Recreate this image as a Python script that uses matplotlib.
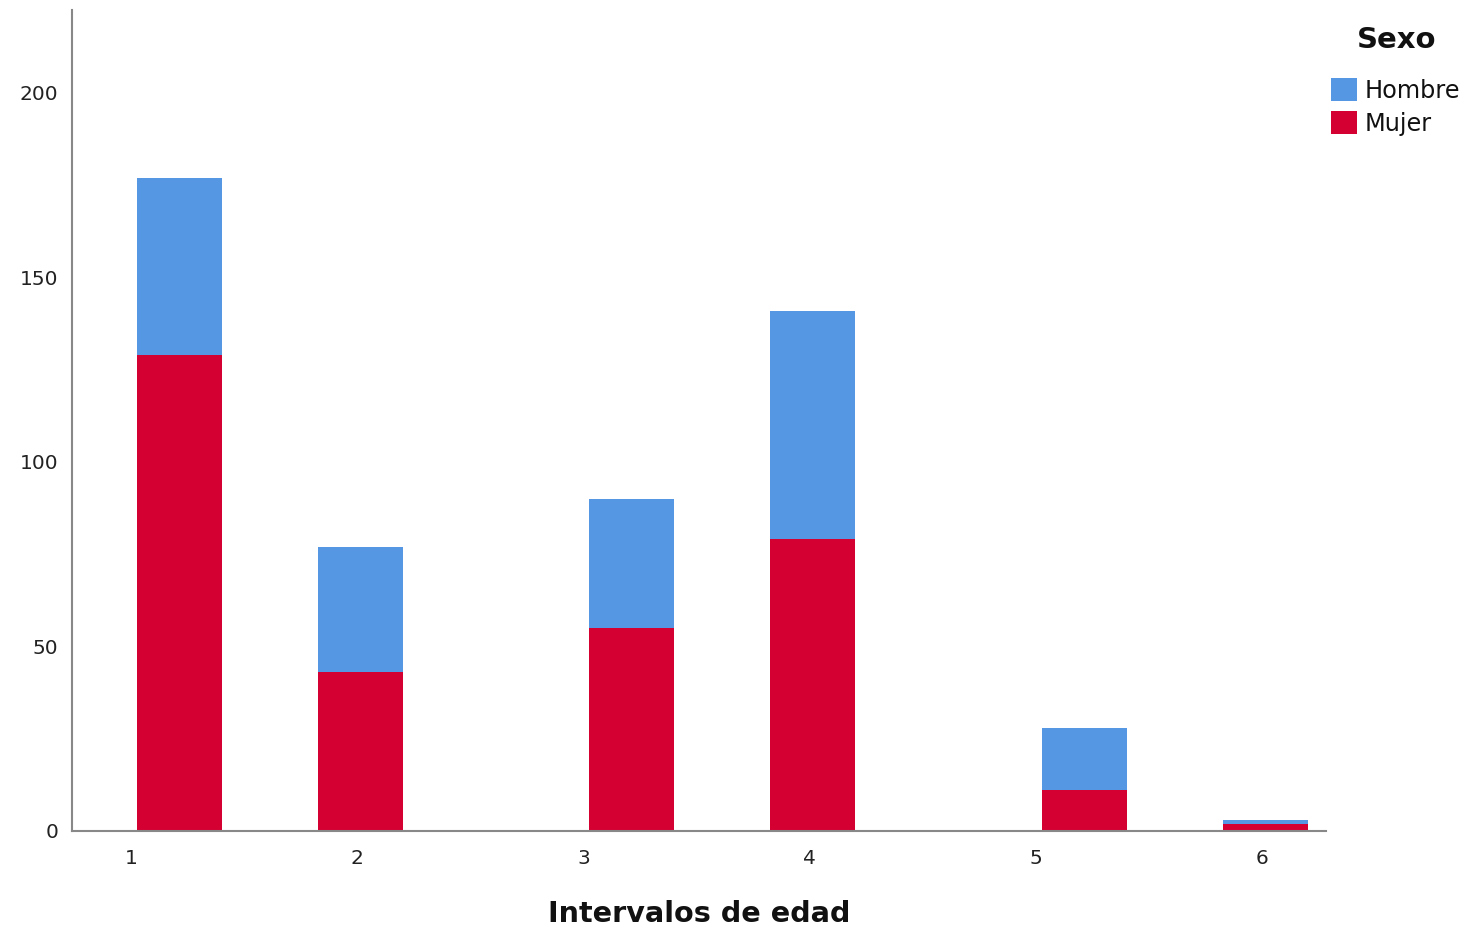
import matplotlib
matplotlib.use("Agg")
import matplotlib.pyplot as plt
from matplotlib.patches import Patch

plt.rcParams['font.family'] = ['DejaVu Sans']

categories = [1, 2, 3, 4, 5, 6]
bar_pos = [1.215, 2.015, 3.214, 4.015, 5.214, 6.015]
mujer = [129, 43, 55, 79, 11, 2]
hombre = [48, 34, 35, 62, 17, 1]
series_names = ["Hombre", "Mujer"]
legend_title = "Sexo"
c_hombre = "#5597E3"
c_mujer = "#D50032"

fig = plt.figure(figsize=(14.71, 9.32), dpi=100)
ax = fig.add_axes([0.0489, 0.1084, 0.8525, 0.8809])

w = 0.376
ax.bar(bar_pos, mujer, width=w, color=c_mujer, linewidth=0)
ax.bar(bar_pos, hombre, width=w, bottom=mujer, color=c_hombre, linewidth=0)

ax.set_xlim(0.739, 6.283)
ax.set_ylim(0, 222.5)
ax.set_xticks(categories)
ax.set_xticklabels([str(c) for c in categories])
ax.set_yticks([0, 50, 100, 150, 200])
ax.tick_params(axis='both', length=0, labelsize=14.5, colors='#222222')
ax.tick_params(axis='x', pad=13)
ax.tick_params(axis='y', pad=10)
for s in ['top', 'right']:
    ax.spines[s].set_visible(False)
for s in ['left', 'bottom']:
    ax.spines[s].set_color('#888888')
    ax.spines[s].set_linewidth(1.5)

ax.set_xlabel("Intervalos de edad", fontsize=20.6, fontweight='bold', labelpad=23, color='#111111')

fig.text(1397 / 1471, 1 - 40 / 932, legend_title, fontsize=21, fontweight='bold',
         ha='center', va='center', color='#111111')
handles = [Patch(facecolor=c_hombre, edgecolor='none'), Patch(facecolor=c_mujer, edgecolor='none')]
leg = fig.legend(handles, series_names, loc='upper left',
                 bbox_to_anchor=(1331 / 1471, 1 - 78 / 932), frameon=False, fontsize=17.3,
                 handlelength=1.1, handleheight=1.1, handletextpad=0.3,
                 labelspacing=0.35, borderaxespad=0, borderpad=0)
for t in leg.get_texts():
    t.set_color('#111111')

fig.savefig("out.png", dpi=100)
